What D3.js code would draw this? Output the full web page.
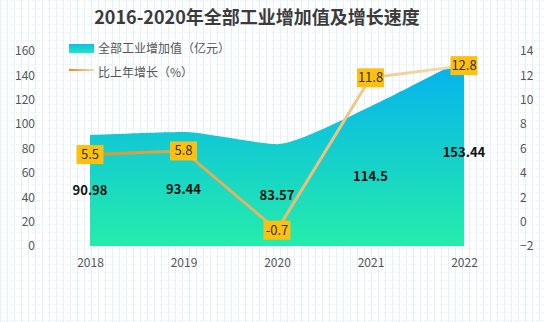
<!DOCTYPE html>
<html><head><meta charset="utf-8">
<script src="https://cdn.jsdelivr.net/npm/d3@7/dist/d3.min.js"></script>
<style>
html,body{margin:0;padding:0;background:#fff;}
svg{display:block;font-family:"Noto Sans CJK SC","Noto Sans",sans-serif;}
</style></head>
<body>
<svg id="c" width="545" height="322"></svg>
<script>
const title = "2016-2020年全部工业增加值及增长速度";
const years = ["2018","2019","2020","2021","2022"];
const industryValue = [90.98, 93.44, 83.57, 114.5, 153.44];
const growthRate = [5.5, 5.8, -0.7, 11.8, 12.8];
const leftTicks = [0,20,40,60,80,100,120,140,160];
const rightTicks = [-2,0,2,4,6,8,10,12,14];
const legendNames = ["全部工业增加值（亿元）","比上年增长（%）"];

const W = 545, H = 322;
const svg = d3.select("#c");
const defs = svg.append("defs");

// background grid pattern
const pat = defs.append("pattern").attr("id","grid").attr("width",7).attr("height",8).attr("patternUnits","userSpaceOnUse");
pat.append("line").attr("x1",0.5).attr("x2",0.5).attr("y1",0).attr("y2",8).attr("stroke","#e4f1f8").attr("stroke-width",1);
pat.append("line").attr("x1",0).attr("x2",7).attr("y1",0.5).attr("y2",0.5).attr("stroke","#e4f1f8").attr("stroke-width",1).attr("stroke-dasharray","1,1");
svg.append("rect").attr("width",W).attr("height",H).attr("fill","url(#grid)");

const x = d3.scalePoint().domain(years).range([90, 464]);
const yL = d3.scaleLinear().domain([0,160]).range([246, 51]);
const yR = d3.scaleLinear().domain([-2,14]).range([246, 51]);

// gradients
const ag = defs.append("linearGradient").attr("id","areaG").attr("gradientUnits","userSpaceOnUse")
  .attr("x1",0).attr("y1",yL(160)).attr("x2",0).attr("y2",yL(0));
ag.append("stop").attr("offset","0%").attr("stop-color","#03aef2");
ag.append("stop").attr("offset","100%").attr("stop-color","#24edab");
const lg = defs.append("linearGradient").attr("id","lineG").attr("gradientUnits","userSpaceOnUse")
  .attr("x1",x(years[0])).attr("y1",0).attr("x2",x(years[4])).attr("y2",0);
lg.append("stop").attr("offset","0%").attr("stop-color","#d9962a");
lg.append("stop").attr("offset","100%").attr("stop-color","#f6ddb0");
const legA = defs.append("linearGradient").attr("id","legA").attr("x1",0).attr("y1",0).attr("x2",0).attr("y2",1);
legA.append("stop").attr("offset","0%").attr("stop-color","#0bc0e8");
legA.append("stop").attr("offset","100%").attr("stop-color","#22e6c0");
const legL = defs.append("linearGradient").attr("id","legL").attr("x1",0).attr("y1",0).attr("x2",1).attr("y2",0);
legL.append("stop").attr("offset","0%").attr("stop-color","#ec8a1c");
legL.append("stop").attr("offset","100%").attr("stop-color","#f8d8a8");

// title
svg.append("text").attr("x",257).attr("y",24).attr("text-anchor","middle")
  .attr("font-size",18).attr("font-weight","bold").attr("fill","#3b3b3b").text(title);

// axes
const axL = svg.append("g").attr("transform","translate(35,0)")
  .call(d3.axisLeft(yL).tickValues(leftTicks).tickSize(0).tickPadding(0));
const axR = svg.append("g").attr("transform","translate(520,0)")
  .call(d3.axisRight(yR).tickValues(rightTicks).tickSize(0).tickPadding(0));
const axB = svg.append("g").attr("transform","translate(0,246)")
  .call(d3.axisBottom(x).tickSize(0).tickPadding(12));
[axL,axR,axB].forEach(a=>{
  a.select(".domain").remove();
  a.selectAll("text").attr("font-size",12).attr("fill","#555").attr("font-family","'Noto Sans CJK SC','Noto Sans',sans-serif");
});

// smooth path (echarts-like smoothing)
function smoothPath(pts, smooth, p) {
  let prevX, prevY, cpx0, cpy0;
  for (let i = 0; i < pts.length; i++) {
    const [x0, y0] = pts[i];
    if (i === 0) { p.lineTo(x0, y0); cpx0 = x0; cpy0 = y0; }
    else {
      let cpx1, cpy1, nCx, nCy;
      if (i === pts.length - 1) { cpx1 = x0; cpy1 = y0; }
      else {
        const [nx, ny] = pts[i+1];
        let vx = nx - prevX, vy = ny - prevY;
        const lp = Math.hypot(x0 - prevX, y0 - prevY), ln = Math.hypot(nx - x0, ny - y0);
        const r = ln / (ln + lp);
        nCx = x0 + vx*smooth*r; nCy = y0 + vy*smooth*r;
        nCx = Math.max(Math.min(nCx, Math.max(nx,x0)), Math.min(nx,x0));
        nCy = Math.max(Math.min(nCy, Math.max(ny,y0)), Math.min(ny,y0));
        vx = nCx - x0; vy = nCy - y0;
        cpx1 = x0 - vx*lp/ln; cpy1 = y0 - vy*lp/ln;
        cpx1 = Math.max(Math.min(cpx1, Math.max(prevX,x0)), Math.min(prevX,x0));
        cpy1 = Math.max(Math.min(cpy1, Math.max(prevY,y0)), Math.min(prevY,y0));
        vx = x0 - cpx1; vy = y0 - cpy1;
        nCx = x0 + vx*ln/lp; nCy = y0 + vy*ln/lp;
      }
      p.bezierCurveTo(cpx0, cpy0, cpx1, cpy1, x0, y0);
      cpx0 = nCx; cpy0 = nCy;
    }
    prevX = x0; prevY = y0;
  }
}
const areaPts = industryValue.map((d,i)=>[x(years[i]), yL(d)]);
const ap = d3.path();
ap.moveTo(x(years[0]), yL(0));
smoothPath(areaPts, 0.2, ap);
ap.lineTo(x(years[years.length-1]), yL(0));
ap.closePath();
svg.append("path").attr("d", ap.toString()).attr("fill","url(#areaG)");

// area labels
svg.append("g").selectAll("text").data(industryValue).join("text")
  .attr("x",(d,i)=>x(years[i])).attr("y",d=>yL(d/2)+4.5).attr("text-anchor","middle")
  .attr("font-size",13).attr("font-weight","bold").attr("fill","#111")
  .text(d=>d);

// line
const line = d3.line().x((d,i)=>x(years[i])).y(d=>yR(d));
svg.append("path").datum(growthRate).attr("d",line).attr("fill","none")
  .attr("stroke","url(#lineG)").attr("stroke-width",3).attr("stroke-linejoin","round");

// line labels
const lbl = svg.append("g").selectAll("g").data(growthRate).join("g")
  .attr("transform",(d,i)=>`translate(${x(years[i])},${yR(d)})`);
lbl.append("rect").attr("x",-13.5).attr("y",-9.5).attr("width",27).attr("height",19).attr("fill","#fdc011");
lbl.append("text").attr("y",4.5).attr("text-anchor","middle").attr("font-size",13).attr("fill","#333").text(d=>d);

// legend
svg.append("rect").attr("x",69).attr("y",44).attr("width",25).attr("height",9).attr("fill","url(#legA)");
svg.append("rect").attr("x",69).attr("y",69).attr("width",25).attr("height",2).attr("fill","url(#legL)");
svg.append("g").selectAll("text").data(legendNames).join("text")
  .attr("x",98).attr("y",(d,i)=>53+i*24).attr("font-size",12).attr("fill","#555").text(d=>d);
</script>
</body></html>
